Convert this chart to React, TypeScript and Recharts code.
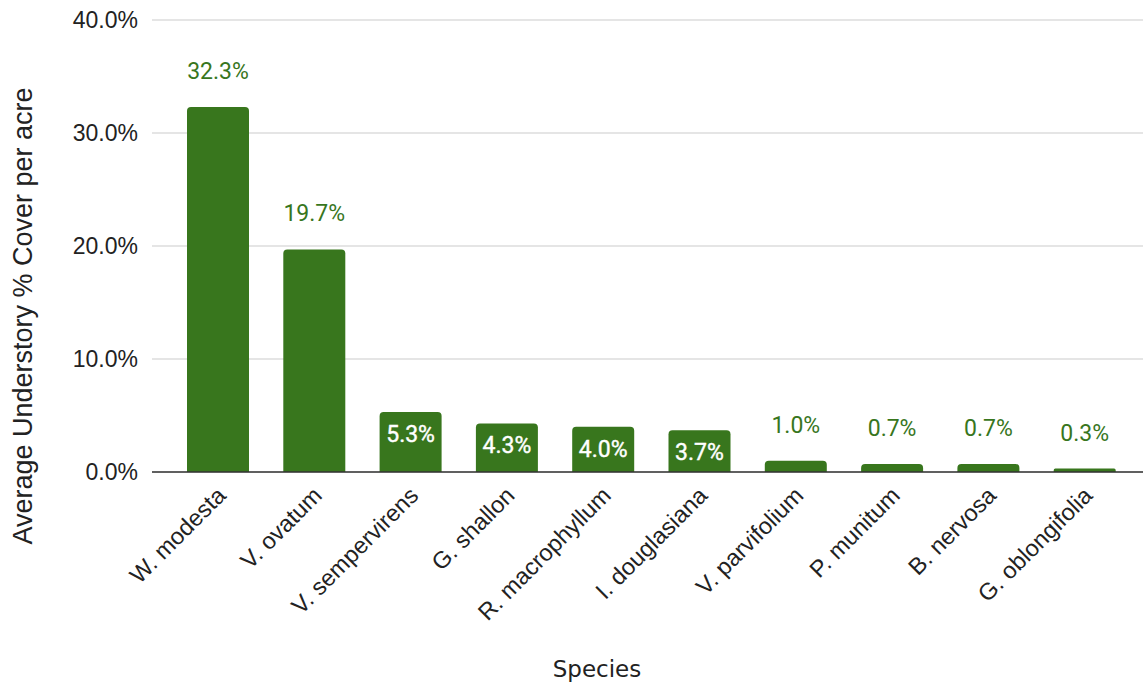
import React from "react";
import {
  BarChart,
  Bar,
  XAxis,
  YAxis,
  CartesianGrid,
  LabelList,
} from "recharts";

const species = [
  "W. modesta",
  "V. ovatum",
  "V. sempervirens",
  "G. shallon",
  "R. macrophyllum",
  "I. douglasiana",
  "V. parvifolium",
  "P. munitum",
  "B. nervosa",
  "G. oblongifolia",
];

const cover = [32.3, 19.7, 5.3, 4.3, 4.0, 3.7, 1.0, 0.7, 0.7, 0.3];

const yTicks = [0, 10, 20, 30, 40];

const data = species.map((name, i) => ({ name, cover: cover[i] }));

const GREEN = "#38761d";

const pct = (v: number) => `${v.toFixed(1)}%`;

// mid-sized bars carry their value inside, the rest above the bar
function ValueLabel(props: any) {
  const { x, y, width, value } = props;
  const cx = x + width / 2;
  const inside = value >= 3 && value < 10;
  return (
    <text
      x={cx}
      y={inside ? y + 30 : y - 28}
      textAnchor="middle"
      fontFamily="Roboto"
      fontSize={23}
      fill={inside ? "#ffffff" : GREEN}
      stroke={inside ? "#ffffff" : "none"}
      strokeWidth={inside ? 0.4 : 0}
    >
      {pct(value)}
    </text>
  );
}

function SpeciesTick(props: any) {
  const { x, y, payload } = props;
  return (
    <g transform={`translate(${x + 9},${y + 25}) rotate(-45)`}>
      <text
        x={0}
        y={0}
        textAnchor="end"
        fontFamily="'Liberation Sans', Arial"
        fontSize={23.5}
        fill="#222"
      >
        {payload.value}
      </text>
    </g>
  );
}

export default function App() {
  return (
    <div style={{ width: 1143, height: 684, position: "relative" }}>
      <style>{`body{margin:0}`}</style>
      <BarChart
        width={1143}
        height={684}
        data={data}
        margin={{ top: 20, right: 0, bottom: 0, left: 0 }}
        barCategoryGap={17}
      >
        <CartesianGrid vertical={false} stroke="#cccccc" strokeWidth={1.2} />
        <XAxis
          dataKey="name"
          height={212}
          interval={0}
          tickLine={false}
          tickSize={0}
          tickMargin={0}
          padding={{ left: 18, right: 10 }}
          axisLine={{ stroke: "#333", strokeWidth: 1.5 }}
          tick={<SpeciesTick />}
          label={{
            content: () => (
              <text
                x={597}
                y={677}
                textAnchor="middle"
                fontFamily="'DejaVu Sans'"
                fontSize={23}
                fill="#222"
              >
                Species
              </text>
            ),
          }}
        />
        <YAxis
          width={152}
          domain={[0, 40]}
          ticks={yTicks}
          tickFormatter={pct}
          axisLine={false}
          tickLine={false}
          tickSize={6}
          tickMargin={8}
          tick={{
            fontFamily: "'Liberation Sans', Arial",
            fontSize: 23,
            fill: "#222",
          }}
          label={{
            content: () => (
              <text
                x={32}
                y={316}
                transform="rotate(-90, 32, 316)"
                textAnchor="middle"
                fontFamily="'Liberation Sans', Arial"
                fontSize={27}
                fill="#222"
              >
                Average Understory % Cover per acre
              </text>
            ),
          }}
        />
        <Bar
          dataKey="cover"
          fill={GREEN}
          radius={[4, 4, 0, 0]}
          isAnimationActive={false}
        >
          <LabelList dataKey="cover" content={<ValueLabel />} />
        </Bar>
      </BarChart>
    </div>
  );
}
